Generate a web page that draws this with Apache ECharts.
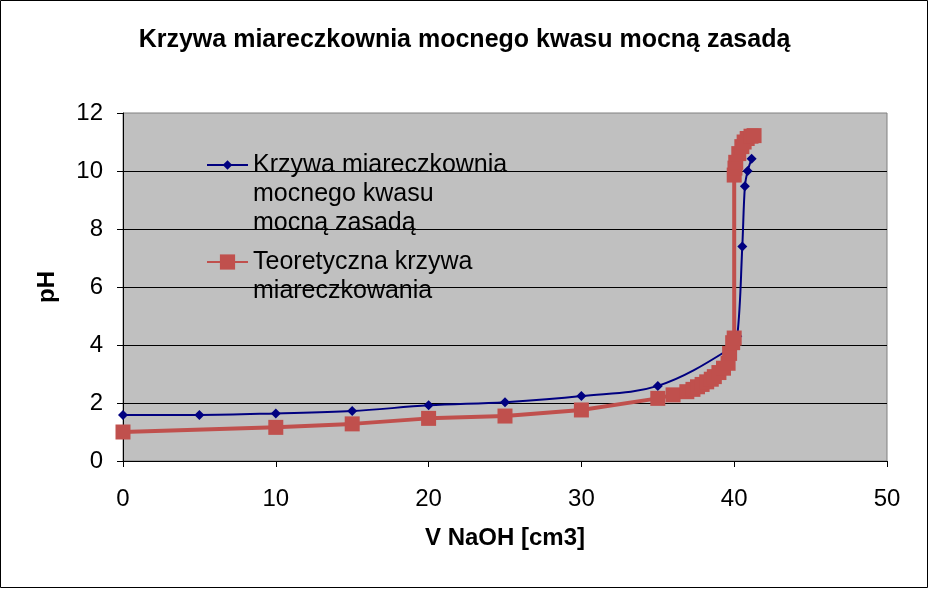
<!DOCTYPE html>
<html>
<head>
<meta charset="utf-8">
<script src="https://cdn.jsdelivr.net/npm/echarts@6/dist/echarts.min.js"></script>
<style>
html,body{margin:0;padding:0;background:#fff;}
#chart{width:929px;height:589px;}
</style>
</head>
<body>
<div id="chart"></div>
<script>
const chartTitle = 'Krzywa miareczkownia mocnego kwasu mocną zasadą';
const xAxisName = 'V NaOH [cm3]';
const yAxisName = 'pH';
const seriesNames = ['Krzywa miareczkownia mocnego kwasu mocną zasadą', 'Teoretyczna krzywa miareczkowania'];
const legendLabels = ['Krzywa miareczkownia\nmocnego kwasu\nmocną zasadą', 'Teoretyczna krzywa\nmiareczkowania'];

// measured titration curve (x = V NaOH, y = pH)
const measuredV  = [0, 5, 10, 15, 20, 25, 30, 35, 39.8, 40.2, 40.53, 40.7, 40.88, 41.14];
const measuredPH = [1.59, 1.59, 1.64, 1.72, 1.92, 2.03, 2.24, 2.59, 3.9, 4.3, 7.4, 9.47, 10.0, 10.42];

// theoretical titration curve
const theoryV  = [0, 10, 15, 20, 25, 30, 35, 36, 36.9, 37.3, 37.6, 37.9, 38.2, 38.5, 38.7, 39, 39.3, 39.6, 39.7, 39.9, 40, 40, 40.05, 40.1, 40.3, 40.5, 40.65, 40.85, 41.1, 41.3];
const theoryPH = [1.0, 1.16, 1.28, 1.47, 1.55, 1.76, 2.16, 2.28, 2.39, 2.47, 2.56, 2.64, 2.73, 2.82, 2.91, 3.05, 3.2, 3.37, 3.71, 4.08, 4.24, 9.86, 10.1, 10.3, 10.6, 10.84, 11.0, 11.12, 11.2, 11.22];

const xTicks = { min: 0, max: 50, interval: 10 };
const yTicks = { min: 0, max: 12, interval: 2 };

const FONT = '"Liberation Sans", Arial, sans-serif';

const chart = echarts.init(document.getElementById('chart'), null, { renderer: 'canvas' });

function pairs(xs, ys) { return xs.map((x, i) => [x, ys[i]]); }

const legendBase = {
  orient: 'vertical',
  padding: 0,
  itemWidth: 41,
  textStyle: { fontFamily: FONT, fontSize: 25, color: '#000', lineHeight: 29 },
  selectedMode: false
};

chart.setOption({
  animation: false,
  backgroundColor: '#ffffff',
  title: {
    text: chartTitle,
    left: 'center',
    top: 23,
    textStyle: { fontFamily: FONT, fontSize: 25, fontWeight: 'bold', color: '#000' }
  },
  legend: [
    Object.assign({}, legendBase, {
      left: 206,
      top: 165 - 72.5,
      itemHeight: 12,
      data: [seriesNames[0]],
      formatter: () => '\n\n' + legendLabels[0]
    }),
    Object.assign({}, legendBase, {
      left: 206,
      top: 262 - 43.5,
      itemHeight: 19,
      data: [seriesNames[1]],
      formatter: () => '\n' + legendLabels[1]
    })
  ],
  grid: {
    left: 123, right: 42, top: 113, bottom: 128,
    show: true,
    backgroundColor: '#C0C0C0',
    borderColor: '#808080',
    borderWidth: 1
  },
  xAxis: {
    type: 'value',
    min: xTicks.min, max: xTicks.max, interval: xTicks.interval,
    name: xAxisName,
    nameLocation: 'middle',
    nameGap: 65,
    nameTextStyle: { fontFamily: FONT, fontSize: 24, fontWeight: 'bold', color: '#000' },
    axisLine: { show: true, onZero: false, lineStyle: { color: '#000', width: 1 } },
    axisTick: { show: true, length: 6, lineStyle: { color: '#000' } },
    axisLabel: { fontFamily: FONT, fontSize: 24, color: '#000', margin: 26 },
    splitLine: { show: false }
  },
  yAxis: {
    type: 'value',
    min: yTicks.min, max: yTicks.max, interval: yTicks.interval,
    name: yAxisName,
    nameLocation: 'middle',
    nameGap: 64,
    nameTextStyle: { fontFamily: FONT, fontSize: 24, fontWeight: 'bold', color: '#000' },
    axisLine: { show: true, onZero: false, lineStyle: { color: '#000', width: 1 } },
    axisTick: { show: true, length: 6, lineStyle: { color: '#000' } },
    axisLabel: { fontFamily: FONT, fontSize: 24, color: '#000', margin: 20 },
    splitLine: { show: true, showMinLine: false, showMaxLine: false, lineStyle: { color: '#000', width: 1 } }
  },
  series: [
    {
      name: seriesNames[0],
      type: 'line',
      data: pairs(measuredV, measuredPH),
      smooth: 0.35,
      symbol: 'diamond',
      symbolSize: 10,
      color: '#000080',
      itemStyle: { color: '#000080' },
      lineStyle: { color: '#000080', width: 2 },
      z: 2
    },
    {
      name: seriesNames[1],
      type: 'line',
      data: pairs(theoryV, theoryPH),
      smooth: false,
      symbol: 'rect',
      symbolSize: 15,
      color: '#C0504D',
      itemStyle: { color: '#C0504D' },
      lineStyle: { color: '#C0504D', width: 4 },
      z: 3
    }
  ],
  graphic: [
    {
      type: 'rect',
      shape: { x: 0.5, y: 0.5, width: 927, height: 587 },
      style: { fill: null, stroke: '#000', lineWidth: 1 },
      silent: true,
      z: 100
    }
  ]
});
</script>
</body>
</html>
